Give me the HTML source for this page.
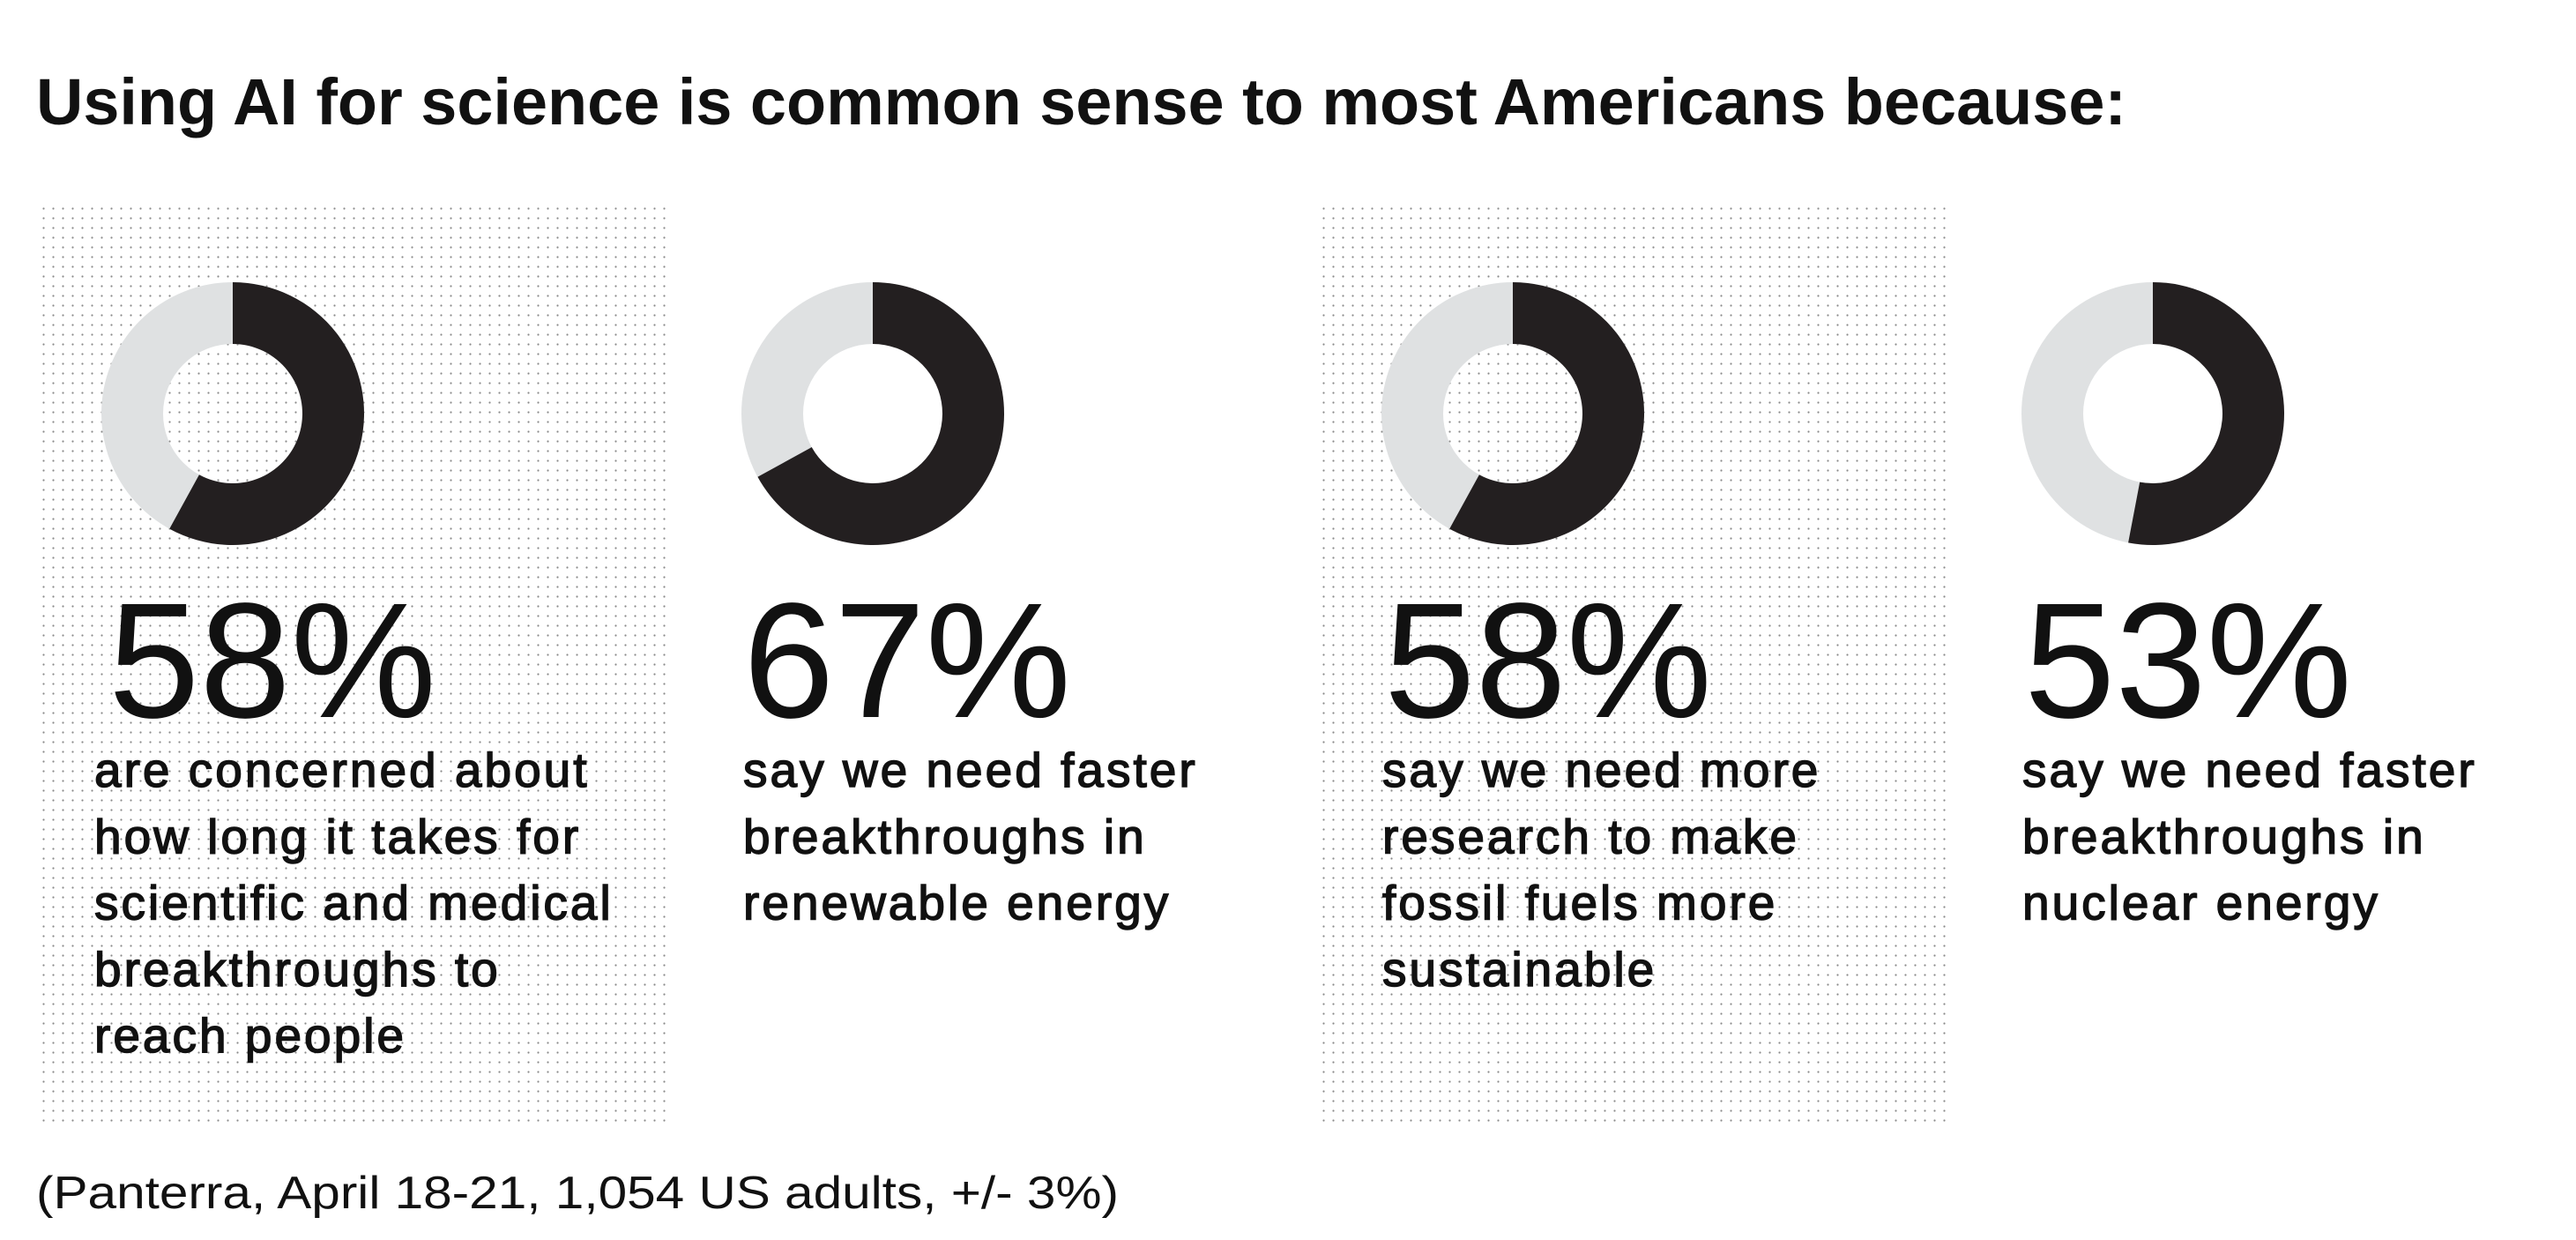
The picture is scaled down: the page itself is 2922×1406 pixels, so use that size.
<!DOCTYPE html>
<html><head><meta charset="utf-8"><style>
html,body{margin:0;padding:0;background:#fff;}
svg{display:block;}
</style></head><body>
<svg id="chart" width="2922" height="1406" viewBox="0 0 2922 1406" xmlns="http://www.w3.org/2000/svg">
<defs>
<pattern id="dots" width="11" height="11" patternUnits="userSpaceOnUse"><circle cx="5.5" cy="5.5" r="1.1" fill="#8a8a8a"/></pattern>
</defs>
<text x="41" y="141" font-family="Liberation Sans, sans-serif" font-weight="bold" font-size="74" textLength="2371" lengthAdjust="spacingAndGlyphs" fill="#111">Using AI for science is common sense to most Americans because:</text>
<g id="panels"></g>
<text x="41" y="1370" font-family="Liberation Sans, sans-serif" font-size="52" textLength="1228" lengthAdjust="spacingAndGlyphs" fill="#111">(Panterra, April 18-21, 1,054 US adults, +/- 3%)</text>
</svg>
<script>
const values = [58, 67, 58, 53];
const labels = ["58%", "67%", "58%", "53%"];
const descriptions = [
  ["are concerned about", "how long it takes for", "scientific and medical", "breakthroughs to", "reach people"],
  ["say we need faster", "breakthroughs in", "renewable energy"],
  ["say we need more", "research to make", "fossil fuels more", "sustainable"],
  ["say we need faster", "breakthroughs in", "nuclear energy"]
];
const NS = "http://www.w3.org/2000/svg";
const g = document.getElementById('panels');
const pitch = 726, x0 = 41, pw = 719;
const cy = 469, R = 149, r = 79;
function mk(t, a){const e=document.createElementNS(NS,t);for(const k in a)e.setAttribute(k,a[k]);return e;}
function pt(cx, rad, f){const a=f*2*Math.PI;return [cx+rad*Math.sin(a), cy-rad*Math.cos(a)];}
values.forEach((v,i)=>{
  const px = x0 + i*pitch;
  if(i%2===0){
    const bg = mk('rect',{x:px,y:232,width:pw,height:1046,fill:'url(#dots)'});
    
    
    g.appendChild(bg);
  }
  const cx = 264 + i*pitch;
  const ring = mk('circle',{cx:cx,cy:cy,r:(R+r)/2,fill:'none',stroke:'#dfe1e2','stroke-width':R-r});
  
  
  g.appendChild(ring);
  const f = v/100;
  const [ox,oy]=pt(cx,R,f), [ix,iy]=pt(cx,r,f);
  const large = f>0.5?1:0;
  const d = `M${cx},${cy-R} A${R},${R} 0 ${large} 1 ${ox},${oy} L${ix},${iy} A${r},${r} 0 ${large} 0 ${cx},${cy-r} Z`;
  const arc = mk('path',{d:d,fill:'#231f20'});
  
  
  g.appendChild(arc);
  const tx = [123, 843, 1570, 2296][i];
  const big = mk('text',{x:tx,y:813,'font-family':'Liberation Sans, sans-serif','font-size':186,fill:'#111',textLength:372,lengthAdjust:'spacingAndGlyphs'});
  big.textContent = labels[i];
  
  
  g.appendChild(big);
  const lx = [107, 843, 1568, 2294][i];
  descriptions[i].forEach((line,j)=>{
    const t = mk('text',{x:lx,y:892+j*75.3,'font-family':'Liberation Sans, sans-serif','font-size':55,'letter-spacing':3,fill:'#111',stroke:'#111','stroke-width':1.5});
    t.textContent = line;
    
    
    g.appendChild(t);
  });
});
</script>
</body></html>
